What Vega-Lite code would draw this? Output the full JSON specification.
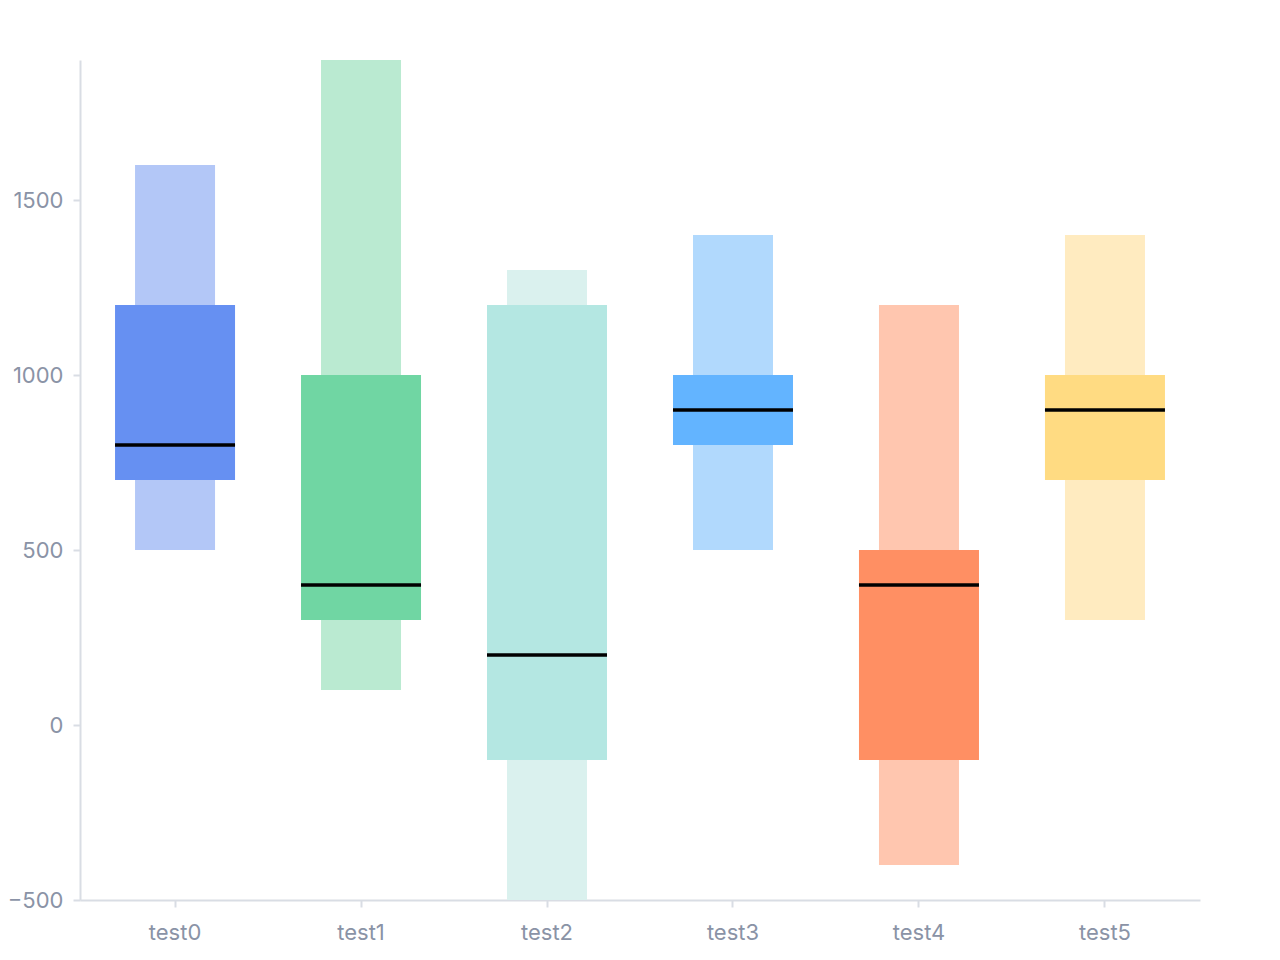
{
  "$schema": "https://vega.github.io/schema/vega-lite/v6.json",
  "width": 1120,
  "height": 840,
  "autosize": "none",
  "padding": {"left": 80, "top": 60, "right": 80, "bottom": 60},
  "background": "white",
  "config": {
    "view": {"stroke": null},
    "font": "Inter",
    "axis": {
      "domainColor": "#D9DDE4",
      "tickColor": "#D9DDE4",
      "labelColor": "#8A93A6",
      "labelFontSize": 22,
      "labelFont": "Inter",
      "grid": false,
      "title": null,
      "tickSize": 7,
      "domainWidth": 2,
      "tickWidth": 2
    }
  },
  "data": {
    "values": [
      {"name": "test0", "min": 500, "q1": 700, "median": 800, "q3": 1200, "max": 1600},
      {"name": "test1", "min": 100, "q1": 300, "median": 400, "q3": 1000, "max": 1900},
      {"name": "test2", "min": -500, "q1": -100, "median": 200, "q3": 1200, "max": 1300},
      {"name": "test3", "min": 500, "q1": 800, "median": 900, "q3": 1000, "max": 1400},
      {"name": "test4", "min": -400, "q1": -100, "median": 400, "q3": 500, "max": 1200},
      {"name": "test5", "min": 300, "q1": 700, "median": 900, "q3": 1000, "max": 1400}
    ]
  },
  "encoding": {
    "x": {
      "field": "name",
      "type": "nominal",
      "sort": null,
      "scale": {"paddingInner": 0, "paddingOuter": 0.011},
      "axis": {"labelAngle": 0, "labelPadding": 15}
    }
  },
  "layer": [
    {
      "mark": {"type": "bar", "size": 80},
      "encoding": {
        "y": {
          "field": "min",
          "type": "quantitative",
          "scale": {"domain": [-500, 1900], "nice": false, "zero": false},
          "axis": {"values": [-500, 0, 500, 1000, 1500], "format": "d", "labelPadding": 10}
        },
        "y2": {"field": "max"},
        "color": {
          "field": "name",
          "type": "nominal",
          "sort": null,
          "legend": null,
          "scale": {"range": ["#B3C7F7", "#BAEAD1", "#DAF1EE", "#B1D9FD", "#FFC6AF", "#FFEBC0"]}
        }
      }
    },
    {
      "mark": {"type": "bar", "size": 120},
      "encoding": {
        "y": {"field": "q1", "type": "quantitative"},
        "y2": {"field": "q3"},
        "color": {
          "field": "name",
          "type": "nominal",
          "sort": null,
          "legend": null,
          "scale": {"range": ["#6690F2", "#70D6A3", "#B4E7E2", "#63B4FF", "#FF8F63", "#FFDB82"]}
        }
      }
    },
    {
      "mark": {"type": "tick", "size": 120, "thickness": 3.5, "color": "#000000", "opacity": 1},
      "encoding": {
        "y": {"field": "median", "type": "quantitative"}
      }
    }
  ],
  "resolve": {"scale": {"color": "independent"}}
}
